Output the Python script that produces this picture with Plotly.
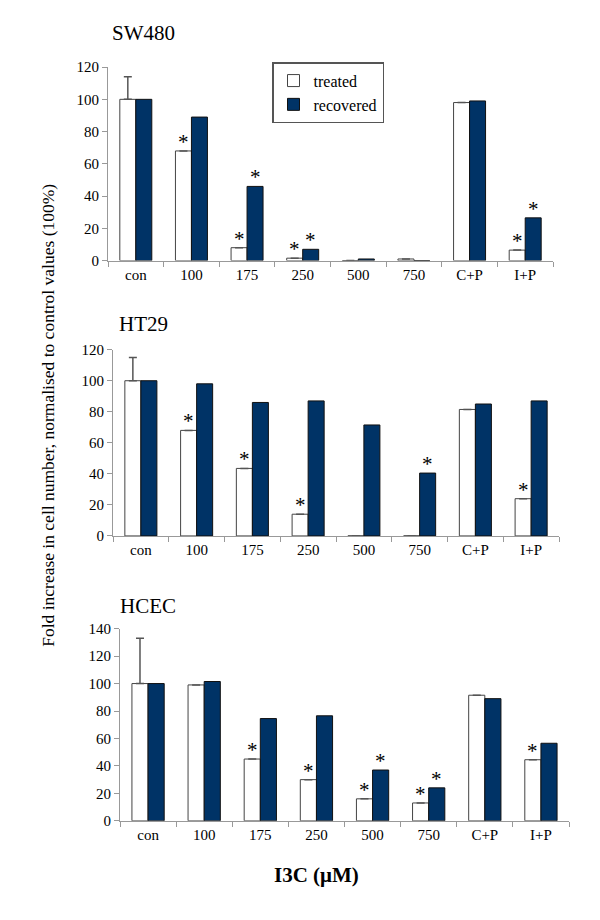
import plotly.graph_objects as go

categories = ["con", "100", "175", "250", "500", "750", "C+P", "I+P"]

sw480_treated = [100, 68, 8, 1.5, 0, 1, 98, 6.5]
sw480_recovered = [100, 89, 46, 7, 1, 0, 99, 26.5]
sw480_sig_treated = [0, 1, 1, 1, 0, 0, 0, 1]
sw480_sig_recovered = [0, 0, 1, 1, 0, 0, 0, 1]

ht29_treated = [100, 68, 43.5, 14, 0, 0, 81.5, 24]
ht29_recovered = [100, 98, 86, 87, 71.5, 40.5, 85, 87]
ht29_sig_treated = [0, 1, 1, 1, 0, 0, 0, 1]
ht29_sig_recovered = [0, 0, 0, 0, 0, 1, 0, 0]

hcec_treated = [100, 99, 45, 30, 16, 13, 91.5, 44.5]
hcec_recovered = [100, 101.5, 74.5, 76.5, 37, 24, 89, 56.5]
hcec_sig_treated = [0, 0, 1, 1, 1, 1, 0, 1]
hcec_sig_recovered = [0, 0, 0, 0, 1, 1, 0, 0]

con_error = [14, 15, 33]
panel_names = ["SW480", "HT29", "HCEC"]
y_max = [120, 120, 140]

# page body has an 8px margin; figure is sized to fill the window exactly
PAD = 8
W, H = 600 - 2 * PAD, 920 - 2 * PAD
NAVY = "#003366"
FONT = "Liberation Serif"


def px(x):
    return (x - PAD) / W


def py(y):
    return 1 - (y - PAD) / H


# window-pixel geometry: (x_left, x_right, y_top, y_bottom)
geom = [(108, 553, 60, 257), (113, 559, 347.7, 537.3), (120, 569, 631.7, 827.3)]
title_pos = [(110, 25), (117, 322), (118, 609)]

data = [
    (sw480_treated, sw480_recovered, sw480_sig_treated, sw480_sig_recovered),
    (ht29_treated, ht29_recovered, ht29_sig_treated, ht29_sig_recovered),
    (hcec_treated, hcec_recovered, hcec_sig_treated, hcec_sig_recovered),
]

fig = go.Figure()
annotations = []
BARGAP = 0.425
off = (1 - BARGAP) / 4

for i, (tr, rc, st, sr) in enumerate(data):
    xa = "x" if i == 0 else f"x{i+1}"
    ya = "y" if i == 0 else f"y{i+1}"
    err = [con_error[i]] + [0] * (len(categories) - 1)
    fig.add_trace(go.Bar(
        x=categories, y=tr, name="treated", xaxis=xa, yaxis=ya,
        marker=dict(color="white", line=dict(color="#444444", width=1)),
        error_y=dict(type="data", array=err, arrayminus=[0] * len(categories),
                     symmetric=False, color="#555555", thickness=1.5, width=4),
        showlegend=(i == 0), legendgroup="t",
    ))
    fig.add_trace(go.Bar(
        x=categories, y=rc, name="recovered", xaxis=xa, yaxis=ya,
        marker=dict(color=NAVY, line=dict(color="#111111", width=1)),
        showlegend=(i == 0), legendgroup="r",
    ))
    xl, xr, yt, yb = geom[i]
    fig.layout[("xaxis" if i == 0 else f"xaxis{i+1}")] = dict(
        domain=[px(xl), px(xr)], anchor=ya, type="category",
        showline=True, linecolor="#999999", linewidth=1,
        ticks="outside", tickson="boundaries", ticklen=5, tickcolor="#999999",
        tickfont=dict(family=FONT, size=15, color="black"),
        showgrid=False, fixedrange=True,
    )
    fig.layout[("yaxis" if i == 0 else f"yaxis{i+1}")] = dict(
        domain=[py(yb), py(yt)], anchor=xa, range=[0, y_max[i]], dtick=20,
        showline=True, linecolor="#999999", linewidth=1,
        ticks="outside", ticklen=5, tickcolor="#999999",
        tickfont=dict(family=FONT, size=15, color="black"),
        showgrid=False, zeroline=False, fixedrange=True,
    )
    for k in range(len(categories)):
        for flag, val, sign in ((st[k], tr[k], -1), (sr[k], rc[k], 1)):
            if flag:
                yv = val
                if k == 0 and sign == -1:
                    yv = val + con_error[i]
                annotations.append(dict(
                    x=k + sign * off, y=yv, xref=xa, yref=ya, text="*",
                    showarrow=False, yanchor="middle", yshift=9,
                    font=dict(family=FONT, size=21, color="black"),
                ))
    tx, ty = title_pos[i]
    annotations.append(dict(
        x=px(tx), y=py(ty), xref="paper", yref="paper", text=panel_names[i],
        showarrow=False, xanchor="left", yanchor="middle",
        font=dict(family=FONT, size=21, color="black"),
    ))

annotations.append(dict(
    x=px(48), y=py(415), xref="paper", yref="paper",
    text="Fold increase in cell number, normalised to control values (100%)",
    textangle=-90, showarrow=False, xanchor="center", yanchor="middle",
    font=dict(family=FONT, size=17.5, color="black"),
))
annotations.append(dict(
    x=px(317), y=py(882), xref="paper", yref="paper",
    text="<b>I3C (μM)</b>", showarrow=False, xanchor="center", yanchor="middle",
    font=dict(family=FONT, size=21, color="black"),
))

fig.update_layout(
    width=W, height=H, margin=dict(l=0, r=0, t=0, b=0),
    paper_bgcolor="white", plot_bgcolor="white",
    barmode="group", bargap=BARGAP, bargroupgap=0,
    annotations=annotations,
    legend=dict(
        x=px(272), y=py(55), xanchor="left", yanchor="top",
        bordercolor="#555555", borderwidth=1.5, bgcolor="white",
        font=dict(family=FONT, size=16, color="black"),
        tracegroupgap=0, itemwidth=30,
    ),
    font=dict(family=FONT),
)

fig.write_html("out.html")
